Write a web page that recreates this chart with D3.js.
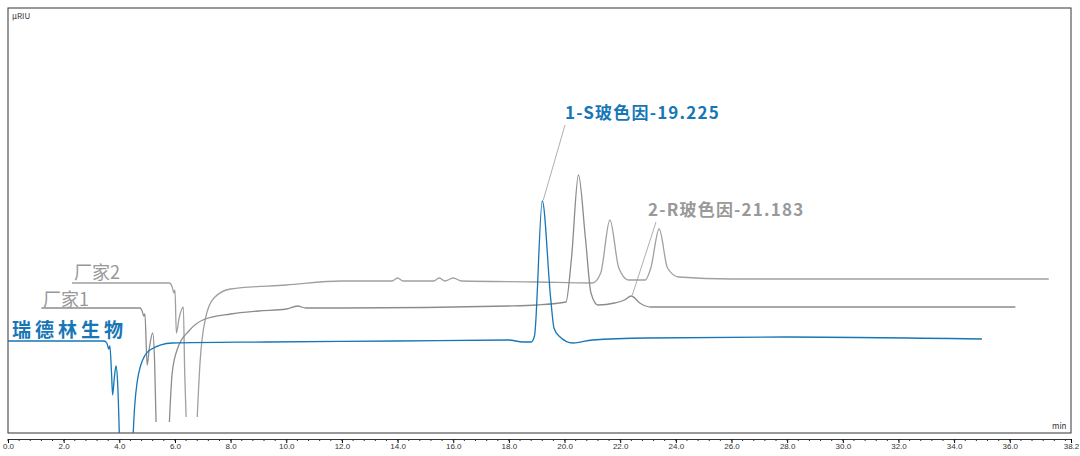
<!DOCTYPE html>
<html><head><meta charset="utf-8">
<script src="https://cdn.jsdelivr.net/npm/d3@7"></script>
<style>body{margin:0;background:#fff}</style>
</head><body>
<script>
// retention time (min), signal
var ruideLin = [[0,92],[3.45,92],[3.55,90],[3.62,84],[3.66,87],[3.72,60],[3.76,38],[3.82,55],[3.88,67],[3.94,50],[4.0,0],null,[4.5,0],[4.55,26],[4.75,66],[5.1,83],[5.9,90],[9.3,91],[14,92],[18.0,93],[18.5,91],[18.8,91],[18.92,97],[19.2,232],[19.5,135],[19.62,105],[19.8,97],[20.3,90],[21,93],[23,95],[28,96],[35,94]];
var vendor1 = [[1.2,125],[4.75,125],[4.82,122],[4.88,117],[4.92,119],[5.0,68],[5.08,85],[5.2,100],[5.27,70],[5.32,11],null,[5.8,11],[5.9,60],[6.1,85],[6.5,102],[7,113],[8,119],[9,122],[10,124],[10.4,127],[10.7,125],[12,125],[18,127],[19,128],[20.05,131],[20.25,175],[20.5,258],[20.75,195],[20.95,140],[21.2,128],[21.8,130],[22.15,133],[22.4,137],[22.7,130],[23.1,126],[26,126],[36.2,126]];
var vendor2 = [[2.3,150],[5.8,150],[5.9,146],[5.96,140],[6.0,143],[6.05,100],[6.15,115],[6.3,126],[6.35,60],[6.4,16],null,[6.8,16],[6.9,70],[7.1,115],[7.4,135],[8,144],[10,148],[12,152],[13.8,152],[14,155],[14.2,152],[15.3,152],[15.5,155],[15.7,152],[16,155],[16.3,152],[19,151],[21,150],[21.3,160],[21.63,213],[21.95,165],[22.3,153],[22.9,153],[23.1,165],[23.4,204],[23.7,165],[24.1,156],[26,154],[37.4,154]];
var seriesNames = ["瑞德林生物","厂家1","厂家2"];
var peakLabels = [["1-S玻色因-19.225",19.2,232],["2-R玻色因-21.183",22.4,137]];
var xTicks = d3.range(0,36.01,2).concat([38.2]);

var W=1080,H=456, L=8,R=1071,T=8,B=433;
var svg=d3.select("body").append("svg").attr("width",W).attr("height",H)
  .style("font-family","'Noto Sans CJK SC','Noto Sans',sans-serif");
var x=d3.scaleLinear().domain([0,38.2]).range([L,R]);
var y=d3.scaleLinear().domain([0,425]).range([B,T]);

svg.append("clipPath").attr("id","c").append("rect").attr("x",L).attr("y",T).attr("width",R-L).attr("height",B-T);
svg.append("rect").attr("x",L).attr("y",T).attr("width",R-L).attr("height",B-T)
  .attr("fill","none").attr("stroke","#333").attr("stroke-width",1);

var line=d3.line().defined(function(d){return d!=null;})
  .x(function(d){return x(d[0]);}).y(function(d){return y(d[1]);})
  .curve(d3.curveMonotoneX);
var g=svg.append("g").attr("clip-path","url(#c)");
[[vendor2,"#a0a0a0"],[vendor1,"#8c8c8c"],[ruideLin,"#1676b6"]].forEach(function(s){
  g.append("path").attr("d",line(s[0])).attr("fill","none").attr("stroke",s[1]).attr("stroke-width",1.3);
});

// axis
var ax=svg.append("g").attr("transform","translate(0,"+(B+6)+")")
  .call(d3.axisBottom(x).tickValues(xTicks).tickFormat(d3.format(".1f")).tickSize(4));
ax.select(".domain").attr("stroke","#333");
ax.selectAll("text").attr("font-size",8).attr("fill","#333").attr("dy","0.4em");
var minor=d3.range(0,38.2,0.4);
svg.append("g").selectAll("line").data(minor).join("line")
  .attr("x1",x).attr("x2",x).attr("y1",B+6).attr("y2",B+8).attr("stroke","#333");

svg.append("text").attr("x",12).attr("y",19).attr("font-size",8).attr("fill","#333").text("µRIU");
svg.append("text").attr("x",1052).attr("y",429).attr("font-size",8).attr("fill","#333").text("min");

// series labels
svg.append("text").attr("x",74).attr("y",279).attr("font-size",18).attr("fill","#999").text(seriesNames[2]);
svg.append("text").attr("x",43).attr("y",306).attr("font-size",18).attr("fill","#999").text(seriesNames[1]);
svg.append("text").attr("x",12).attr("y",337).attr("font-size",19).attr("letter-spacing",4)
  .attr("font-weight","bold").attr("fill","#1676b6").text(seriesNames[0]);

// peak annotations
var pl=[[565,119,"#1676b6",565,125],[648,216,"#999",656,222]];
peakLabels.forEach(function(p,i){
  var o=pl[i];
  svg.append("line").attr("x1",o[3]).attr("y1",o[4]).attr("x2",x(p[1])+1).attr("y2",y(p[2])-1)
    .attr("stroke","#999").attr("stroke-width",0.8);
  svg.append("text").attr("x",o[0]).attr("y",o[1]).attr("font-size",17).attr("letter-spacing",1.2)
    .attr("font-weight","bold").attr("fill",o[2]).text(p[0]);
});
</script>
</body></html>
